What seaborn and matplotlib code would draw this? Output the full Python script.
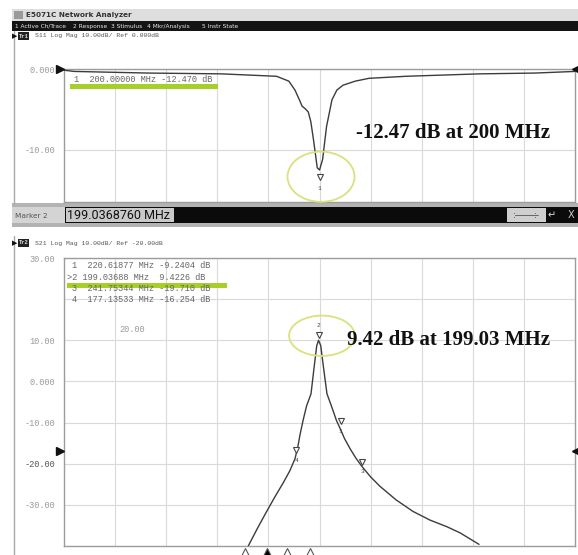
import numpy as np
import pandas as pd
import matplotlib
matplotlib.use("Agg")
import matplotlib.pyplot as plt
import seaborn as sns
from matplotlib.patches import Rectangle, Ellipse

# ---------------- data ----------------
s11_freq_mhz = [-50, -40, 32, 104, 158, 170, 176, 181, 183, 186, 189, 191.5, 194.2,
                197.8, 200, 203, 206.9, 212.2, 217, 223, 235, 248.4, 284.5, 356.7, 411, 450]
s11_db = [-0.15, -0.3, -0.5, -0.6, -0.9, -1.5, -2.6, -4.0, -4.6, -4.9, -5.3, -6.5, -8.8,
          -12.2, -12.47, -11.2, -7.1, -3.8, -2.6, -2.0, -1.5, -1.15, -0.9, -0.6, -0.5, -0.3]

s21_freq_mhz = [130.3, 139.5, 148.3, 156.5, 164.6, 171.0, 176.0, 178.5, 180.9, 183.9, 187.3,
                191.7, 194.9, 197.3, 199.04, 201.2, 203.7, 207.3, 211.7, 216.6, 219.4, 224.5,
                229.8, 235.5, 241.3, 250.0, 259.2, 275.0, 291.5, 308.1, 324.5, 337.5, 356.1]
s21_db = [-40, -35.6, -31.6, -28.0, -24.6, -21.7, -18.8, -16.3, -13, -9.5, -6,
          -3, 3.8, 8.7, 10.0, 8.7, 3.8, -3, -6, -9.5, -11, -13.9,
          -16.3, -18.6, -20.6, -23.2, -25.5, -28.8, -31.6, -33.7, -35.3, -36.8, -39.6]

s11_marker_freq = [200.0]
s11_marker_db = [-12.47]
s11_marker_table = ["1  200.00000 MHz -12.470 dB"]

s21_marker_ids = ["1", "2", "3", "4"]
s21_marker_freq = [220.61877, 199.03688, 241.75344, 177.13533]
s21_marker_db = [-11.0, 10.0, -20.8, -18.0]
s21_marker_table = ["1  220.61877 MHz -9.2404 dB",
                    ">2 199.03688 MHz  9.4226 dB",
                    "3  241.75344 MHz -19.710 dB",
                    "4  177.13533 MHz -16.254 dB"]

indicator_freqs = [127, 148.6, 168, 190.7]
indicator_filled = [False, True, False, False]

freq_grid = [0, 50, 100, 150, 200, 250, 300, 350, 400]
s11_yticks = [0, -10]
s11_yticklabels = ["0.000", "-10.00"]
s21_yticks = [30, 20, 10, 0, -10, -20, -30]
s21_yticklabels = ["30.00", "", "10.00", "0.000", "-10.00", "-20.00", "-30.00"]

menu_items = ["1 Active Ch/Trace", "2 Response", "3 Stimulus", "4 Mkr/Analysis", "5 Instr State"]

# ---------------- style ----------------
sns.set_style("white")
plt.rcParams["font.family"] = ["DejaVu Sans"]

W, H = 578, 555
fig = plt.figure(figsize=(W / 100, H / 100), dpi=100)
fig.patch.set_facecolor("white")

chrome = fig.add_axes([0, 0, 1, 1], zorder=0)
chrome.set_xlim(0, W)
chrome.set_ylim(H, 0)
chrome.axis("off")


def px_axes(x0, y0, x1, y1, z=2):
    return fig.add_axes([x0 / W, 1 - y1 / H, (x1 - x0) / W, (y1 - y0) / H], zorder=z)


def rect(ax, x0, y0, w, h, color, **kw):
    ax.add_patch(Rectangle((x0, y0), w, h, facecolor=color, edgecolor="none", **kw))


MONO = "Liberation Mono"

# window chrome ------------------------------------------------------
rect(chrome, 12, 9, 566, 12, "#dedede")
rect(chrome, 14, 11, 9, 8, "#9a9a9a")
chrome.text(26, 15.5, "E5071C Network Analyzer", fontsize=5.2, weight="bold",
            color="#333333", va="center")
rect(chrome, 12, 21, 566, 10, "#141414")
for lbl, mx in zip(menu_items, [15, 73, 111, 147, 202]):
    chrome.text(mx, 26.3, lbl, fontsize=4.2, color="#e8e8e8", va="center")

# Tr1 header
chrome.text(12, 36, "\u25b6", fontsize=5, color="#111111", va="center")
rect(chrome, 18, 32, 11, 8, "#222222")
chrome.text(23.5, 36, "Tr1", fontsize=4.0, color="#dddddd", va="center", ha="center",
            family=MONO, weight="bold")
chrome.text(35, 36, "S11 Log Mag 10.00dB/ Ref 0.000dB", fontsize=4.6, color="#555555",
            va="center", family=MONO)
chrome.plot([14, 14], [31, 203], color="#a8a8a8", lw=1)

# marker entry bar
rect(chrome, 12, 203, 566, 5, "#b3b3b3")
rect(chrome, 12, 207, 53, 16, "#d4d4d4")
chrome.text(15, 215.5, "Marker 2", fontsize=5.3, color="#555555", va="center")
rect(chrome, 65, 207, 513, 16, "#0b0b0b")
rect(chrome, 66, 208, 108, 14, "#c9c9c9")
chrome.text(67, 215.5, "199.0368760 MHz", fontsize=9, color="#111111", va="center",
            family="Roboto")
rect(chrome, 507, 208, 39, 14, "#cfcfcf")
chrome.text(513, 215, ":", fontsize=6, color="#333", va="center")
chrome.text(534, 215, ":", fontsize=6, color="#333", va="center")
chrome.plot([515, 538], [215, 215], color="#555", lw=0.6)
chrome.text(548, 215.5, "\u21b5", fontsize=7, color="#dddddd", va="center")
chrome.text(568, 215.5, "X", fontsize=7, color="#cccccc", va="center")
rect(chrome, 12, 223, 566, 4, "#b3b3b3")

# Tr2 header
chrome.text(12, 243, "\u25b6", fontsize=5, color="#111111", va="center")
rect(chrome, 18, 239, 11, 8, "#222222")
chrome.text(23.5, 243, "Tr2", fontsize=4.0, color="#dddddd", va="center", ha="center",
            family=MONO, weight="bold")
chrome.text(35, 243, "S21 Log Mag 10.00dB/ Ref -20.00dB", fontsize=4.6, color="#555555",
            va="center", family=MONO)
chrome.plot([14, 14], [236, 555], color="#a8a8a8", lw=1)

# ---------------- data axes ----------------
ax1 = px_axes(64, 69, 575, 202)
ax2 = px_axes(64, 258, 575, 546)

df11 = pd.DataFrame({"freq": s11_freq_mhz, "db": s11_db})
df21 = pd.DataFrame({"freq": s21_freq_mhz, "db": s21_db})
sns.lineplot(data=df11, x="freq", y="db", ax=ax1, color="#3c3c3c", lw=1.0,
             sort=False, estimator=None, zorder=4)
sns.lineplot(data=df21, x="freq", y="db", ax=ax2, color="#3c3c3c", lw=1.0,
             sort=False, estimator=None, zorder=4)

for ax in (ax1, ax2):
    ax.set_facecolor("white")
    ax.set_xlim(-50, 450)
    ax.set_xticks(freq_grid)
    ax.set_xticklabels([])
    ax.tick_params(length=0, pad=6.5)
    ax.grid(True, color="#dadada", lw=0.8)
    ax.set_axisbelow(True)
    for sp in ax.spines.values():
        sp.set_color("#9c9c9c")
        sp.set_linewidth(1.0)
    ax.set_xlabel("")
    ax.set_ylabel("")

ax1.set_ylim(-16.42, 0)
ax1.set_yticks(s11_yticks)
ax1.set_yticklabels(s11_yticklabels, family=MONO, fontsize=6.2, color="#9a9a9a")
ax2.set_ylim(-40, 30)
ax2.set_yticks(s21_yticks)
ax2.set_yticklabels(s21_yticklabels, family=MONO, fontsize=6.2, color="#9a9a9a")
for t in ax2.get_yticklabels():
    if t.get_text() == "-20.00":
        t.set_color("#555555")

# markers on traces
for f, d in zip(s11_marker_freq, s11_marker_db):
    ax1.plot([f], [d - 0.9], marker="v", ms=4.5, mfc="white", mec="#444", mew=0.8,
             clip_on=False, zorder=6)
    ax1.text(f, d - 2.3, "1", fontsize=4.5, color="#444", ha="center", va="center",
             family=MONO, zorder=6)

for mid, f, d in zip(s21_marker_ids, s21_marker_freq, s21_marker_db):
    ax2.plot([f], [d + 1.3], marker="v", ms=4.5, mfc="white", mec="#444", mew=0.8,
             zorder=6)
    dy = 3.6 if mid == "2" else -1.2
    ax2.text(f, d + dy, mid, fontsize=4.5, color="#444", ha="center", va="center",
             family=MONO, zorder=6)

# highlight ellipses
ax1.add_patch(Ellipse((201.5, -13.3), 65.6, 6.2, fill=False, ec="#d9e27c", lw=1.3,
                      clip_on=False, zorder=7))
ax2.add_patch(Ellipse((202.4, 11.1), 64.3, 9.8, fill=False, ec="#d9e27c", lw=1.3,
                      clip_on=False, zorder=7))

# stimulus-axis indicators under the lower plot
for f, filled in zip(indicator_freqs, indicator_filled):
    ax2.plot([f], [-41.6], marker="^", ms=7.5, mfc="black" if filled else "white",
             mec="#555", mew=0.8, clip_on=False, zorder=8)

# ---------------- overlay (texts, highlight bars, reference arrows) ----------------
ov = fig.add_axes([0, 0, 1, 1], zorder=10)
ov.set_xlim(0, W)
ov.set_ylim(H, 0)
ov.axis("off")
ov.patch.set_alpha(0)

ov.text(74, 79.5, s11_marker_table[0], fontsize=6.2, family=MONO, color="#666666",
        va="center")
rect(ov, 70, 84, 148, 5, "#a6cf2a")

for i, line in enumerate(s21_marker_table):
    ov.text(72 if not line.startswith(">") else 66.8, 266 + i * 11.3, line, fontsize=6.2,
            family=MONO, color="#666666", va="center")
rect(ov, 67, 282.5, 160, 5.5, "#a6cf2a")
ov.text(132, 330, "20.00", fontsize=6.2, family=MONO, color="#9a9a9a", ha="center",
        va="center")

ov.text(453, 133, "-12.47 dB at 200 MHz", fontsize=15, family="Liberation Serif",
        weight="bold", color="#111111", ha="center", va="center")
ov.text(449, 340, "9.42 dB at 199.03 MHz", fontsize=15, family="Liberation Serif",
        weight="bold", color="#111111", ha="center", va="center")

for (x, y, m) in [(60, 69, ">"), (576, 69, "<"), (60, 451, ">"), (576, 451, "<")]:
    ov.plot([x], [y], marker=m, ms=5.5, color="#111111", clip_on=False)

fig.savefig("out.png", dpi=100, facecolor="white")
